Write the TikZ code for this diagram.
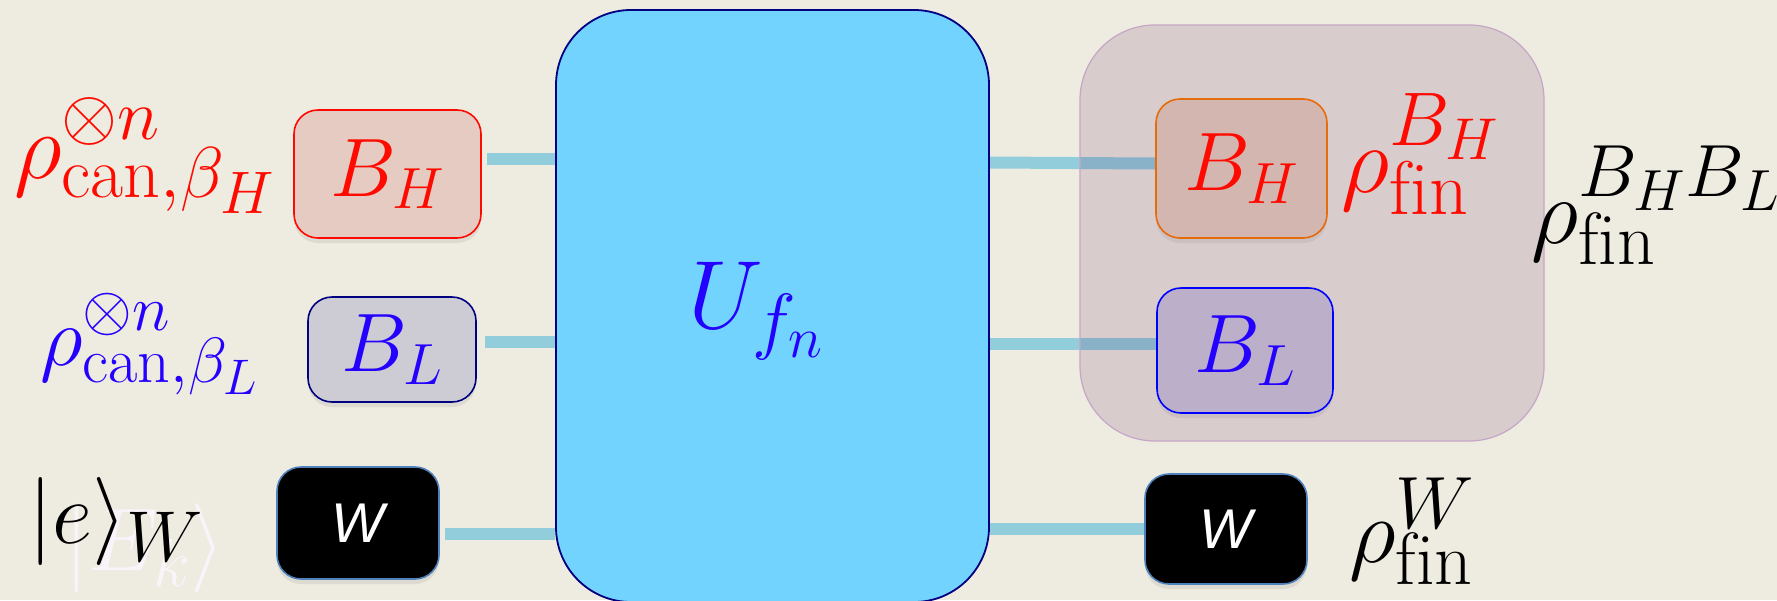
\RequirePackage{fix-cm}
\documentclass[tikz,border=0pt]{standalone}
\usepackage{fontspec}
\newfontfamily\wfont{Liberation Sans}
\usetikzlibrary{shadows}
\DeclareMathSizes{94}{94}{72}{60}
\DeclareMathSizes{84}{84}{64}{50}
\DeclareMathSizes{88}{88}{72}{56}
\DeclareMathSizes{89}{89}{68}{52}
\DeclareMathSizes{95}{95}{76}{59}
\DeclareMathSizes{93}{93}{74}{58}
\DeclareMathSizes{92}{92}{74}{57}
\DeclareMathSizes{97}{97}{74}{58}
\definecolor{bgc}{HTML}{EEEBE0}
\definecolor{ufill}{HTML}{72D3FE}
\definecolor{uline}{HTML}{000080}
\definecolor{ublue}{HTML}{2400FF}
\definecolor{myred}{HTML}{FF0A00}
\definecolor{wirec}{HTML}{92CDDC}
\definecolor{grpfill}{HTML}{5B1C61}
\definecolor{grpline}{HTML}{C6A6C6}
\definecolor{bhlfill}{HTML}{E6CBC3}
\definecolor{bllfill}{HTML}{CDCBD3}
\definecolor{bhrfill}{HTML}{D4B6B1}
\definecolor{bhrline}{HTML}{E46C0A}
\definecolor{blrfill}{HTML}{BBAFC9}
\definecolor{wline}{HTML}{4F81BD}
\definecolor{ghost}{HTML}{F8F4FA}
\pgfdeclarelayer{back}
\pgfdeclarelayer{bg}
\pgfsetlayers{back,bg,main}
\begin{document}
\begin{tikzpicture}[x=1pt,y=-1pt,
  wire/.style={draw=wirec, line width=12pt},
  qbox/.style={rectangle, rounded corners=24pt, line width=1.6pt, inner sep=0pt,
    drop shadow={shadow xshift=0pt, shadow yshift=-5pt, opacity=0.15}},
  wbox/.style={qbox, fill=black, draw=wline, text=white,
    font=\wfont\itshape\fontsize{56}{60}\selectfont},
  btext/.style={font=\fontsize{83}{90}\selectfont},
  lab/.style={anchor=base west, inner sep=0pt}
]
\begin{pgfonlayer}{back}
\fill[bgc] (0,0) rectangle (1777,600);
\end{pgfonlayer}
\useasboundingbox (0,0) rectangle (1777,600);

% central unitary
\node[rectangle, rounded corners=75pt, fill=ufill, draw=uline, line width=1.8pt,
  minimum width=433pt, minimum height=592pt] (U) at (772.5,306) {};
\node[lab, text=ublue, font=\fontsize{97}{100}\selectfont] (Ulab) at (688,328) {$U_{f_n}$};

% group on the right
\node[rectangle, rounded corners=75pt, fill=grpfill, fill opacity=0.15, draw=grpline,
  draw opacity=1, line width=1.2pt, minimum width=464pt, minimum height=416pt] (G) at (1312,233) {};

% left boxes
\node[qbox, fill=bhlfill, draw=myred, minimum width=187pt, minimum height=128pt,
  text=myred, btext] (BHl) at (387.5,174) {$B_H$};
\node[qbox, fill=bllfill, draw=uline, minimum width=168pt, minimum height=105pt,
  text=ublue, btext] (BLl) at (392,349.5) {$B_L$};
\node[wbox, minimum width=162pt, minimum height=112pt] (Wl) at (358,523) {W};

% right boxes
\node[qbox, fill=bhrfill, draw=bhrline, minimum width=171pt, minimum height=139pt,
  text=myred, btext] (BHr) at (1241.5,168.5) {$B_H$};
\node[qbox, fill=blrfill, draw=blue, minimum width=176pt, minimum height=125pt,
  text=ublue, btext] (BLr) at (1245,350.5) {$B_L$};
\node[wbox, minimum width=162pt, minimum height=110pt] (Wr) at (1226,529) {W};

% wires
\begin{pgfonlayer}{bg}
\draw[wire, shorten <=5pt] ([yshift=15pt]BHl.east) -- ([yshift=15pt]BHl.east -| U.west);
\draw[wire, shorten <=8pt] ([yshift=7.5pt]BLl.east) -- ([yshift=7.5pt]BLl.east -| U.west);
\draw[wire, shorten <=5pt] ([yshift=-11pt]Wl.east) -- ([yshift=-11pt]Wl.east -| U.west);
\draw[wire] ([yshift=6pt]BHr.west -| U.east) -- ([yshift=5pt]BHr.west);
\draw[wire, shorten >=-8pt] ([yshift=7pt]BLr.west -| U.east) -- ([yshift=7pt]BLr.west);
\draw[wire] (Wr.west -| U.east) -- (Wr.west);
\end{pgfonlayer}

% labels
\node[lab, text=myred, font=\fontsize{94}{100}\selectfont] (lH) at (14,178)
  {$\rho^{\otimes n}_{\mathrm{can},\beta_H}$};
\node[lab, text=ublue, font=\fontsize{84}{90}\selectfont] (lL) at (40,365)
  {$\rho^{\otimes n}_{\mathrm{can},\beta_L}$};
\node[lab, text=ghost, font=\fontsize{89}{100}\selectfont] (lg) at (64,570) {$|E_k\rangle$};
\node[lab, text=black, font=\fontsize{88}{95}\selectfont] (le) at (28,543) {$|e\rangle_W$};
\node[lab, text=myred, font=\fontsize{95}{100}\selectfont] (rH) at (1341,192)
  {$\rho_{\mathrm{fin}}^{B_H}$};
\node[lab, text=black, font=\fontsize{93}{95}\selectfont] (rHL) at (1531,243)
  {$\rho_{\mathrm{fin}}^{B_H B_L}$};
\node[lab, text=black, font=\fontsize{92}{95}\selectfont] (rW) at (1349,562)
  {$\rho_{\mathrm{fin}}^{W}$};
\end{tikzpicture}
\end{document}
